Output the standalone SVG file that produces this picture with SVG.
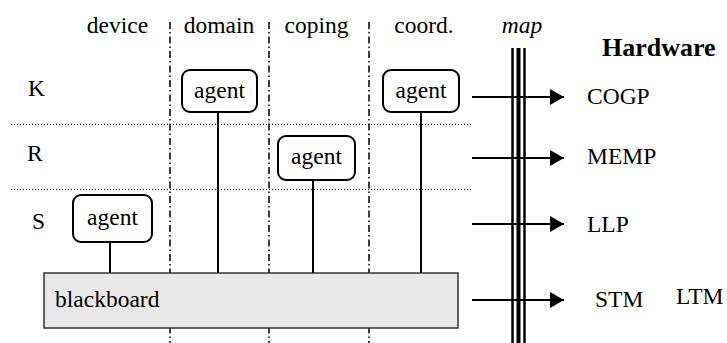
<svg xmlns="http://www.w3.org/2000/svg" width="727" height="343" viewBox="0 0 727 343">
<defs>
<style>
text{font-family:"Liberation Serif","Times New Roman",serif;font-size:23.5px;fill:#000}
.c{text-anchor:middle}
.box{fill:#fff;stroke:#000;stroke-width:2}
.dd{stroke:#000;stroke-width:1.5;stroke-dasharray:7 3 1.5 3;fill:none}
.dot{stroke:#000;stroke-width:1;stroke-dasharray:1 2;fill:none}
.ln{stroke:#000;stroke-width:2;fill:none}
.arr{stroke:#000;stroke-width:2;fill:none;marker-end:url(#ah)}
</style>
<marker id="ah" viewBox="0 0 14 16" refX="14" refY="8" markerWidth="14" markerHeight="16" markerUnits="userSpaceOnUse" orient="auto">
<path d="M0,0 L14,8 L0,16 Z" fill="#000"/>
</marker>
</defs>
<rect width="727" height="343" fill="#fff"/>
<g id="grid">
<line class="dd" x1="170" y1="22" x2="170" y2="343"/>
<line class="dd" x1="269" y1="22" x2="269" y2="343"/>
<line class="dd" x1="369" y1="22" x2="369" y2="343"/>
<line class="dot" x1="11" y1="124.5" x2="472" y2="124.5"/>
<line class="dot" x1="11" y1="189.5" x2="472" y2="189.5"/>
</g>
<g id="headers">
<text class="c" x="117.5" y="33">device</text>
<text class="c" x="219" y="33">domain</text>
<text class="c" x="316.5" y="33">coping</text>
<text class="c" x="424" y="33">coord.</text>
<text class="c" x="522" y="33" font-style="italic">map</text>
<text x="602" y="56" font-weight="bold" style="font-size:26px">Hardware</text>
<text x="28" y="96">K</text>
<text x="27" y="161">R</text>
<text x="32" y="229">S</text>
</g>
<g id="blackboard">
<rect x="44" y="273" width="414" height="55" fill="#e8e8e8" stroke="#333" stroke-width="1.5"/>
<text x="55" y="307">blackboard</text>
</g>
<g id="connectors">
<line class="ln" x1="218" y1="112" x2="218" y2="273"/>
<line class="ln" x1="421" y1="112" x2="421" y2="273"/>
<line class="ln" x1="313" y1="180" x2="313" y2="273"/>
<line class="ln" x1="110" y1="242" x2="110" y2="273"/>
<line class="arr" x1="472" y1="97" x2="564" y2="97"/>
<line class="arr" x1="472" y1="158" x2="564" y2="158"/>
<line class="arr" x1="472" y1="224" x2="564" y2="224"/>
<line class="arr" x1="472" y1="300" x2="564" y2="300"/>
</g>
<g id="agent-domain">
<rect class="box" x="182" y="70" width="75" height="42" rx="8"/>
<text class="c" x="219.5" y="98">agent</text>
</g>
<g id="agent-coord">
<rect class="box" x="383" y="70" width="76" height="42" rx="8"/>
<text class="c" x="421" y="98">agent</text>
</g>
<g id="agent-coping">
<rect class="box" x="278" y="136" width="77" height="44" rx="8"/>
<text class="c" x="316.5" y="164">agent</text>
</g>
<g id="agent-device">
<rect class="box" x="73" y="195" width="79" height="47" rx="8"/>
<text class="c" x="112.5" y="225">agent</text>
</g>
<g id="map">
<line x1="512.5" y1="48" x2="512.5" y2="343" stroke="#000" stroke-width="2.5"/>
<line x1="518.5" y1="48" x2="518.5" y2="343" stroke="#000" stroke-width="4"/>
<line x1="524.5" y1="48" x2="524.5" y2="343" stroke="#000" stroke-width="2.5"/>
</g>
<g id="hardware">
<text x="587" y="104">COGP</text>
<text x="587" y="164">MEMP</text>
<text x="587" y="232">LLP</text>
<text x="595" y="307">STM</text>
<text x="676" y="304">LTM</text>
</g>
</svg>
